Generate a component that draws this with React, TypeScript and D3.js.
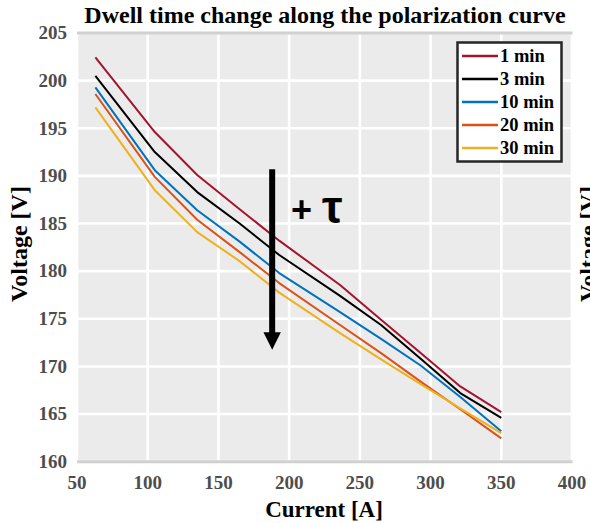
import React from "react";
import * as d3 from "d3";

const currents = [63, 105, 135, 165, 193, 236, 265, 293, 321, 350];
const seriesNames = ["1 min", "3 min", "10 min", "20 min", "30 min"];
const v1 = [202.45, 194.6, 190.1, 186.5, 183.2, 178.55, 174.9, 171.4, 167.9, 165.2];
const v3 = [200.5, 192.5, 188.3, 185.0, 181.7, 177.4, 174.35, 170.8, 167.2, 164.6];
const v10 = [199.3, 190.6, 186.4, 183.1, 179.8, 175.7, 172.9, 170.1, 166.8, 163.2];
const v20 = [198.6, 189.9, 185.4, 182.0, 178.75, 174.35, 171.4, 168.4, 165.5, 162.45];
const v30 = [197.2, 188.5, 184.1, 181.05, 177.75, 173.5, 170.75, 168.15, 165.6, 163.0];
const seriesValues = [v1, v3, v10, v20, v30];
const colors = ["#A2142F", "#000000", "#0072BD", "#D95319", "#EDB120"];
const xTicks = [50, 100, 150, 200, 250, 300, 350, 400];
const yTicks = [160, 165, 170, 175, 180, 185, 190, 195, 200, 205];
const arrowCurrent = 188;
const arrowFrom = 190.7;
const arrowTo = 173.6;

const W = 590;
const H = 523;
const serif = "'Liberation Serif', 'Times New Roman', serif";

export default function App() {
  const x = d3.scaleLinear().domain([50, 400]).range([77, 572]);
  const y = d3.scaleLinear().domain([160, 205]).range([461.7, 33]);
  const line = d3
    .line<number>()
    .x((_, i) => x(currents[i]))
    .y((d) => y(d));

  const left = x(50);
  const right = 571;
  const top = y(205);
  const bottom = y(160);
  const ax = x(arrowCurrent);

  return (
    <svg
      width={W}
      height={H}
      style={{ position: "absolute", left: 0, top: 0, display: "block", background: "#fff" }}
    >
      <rect x={left} y={top} width={right - left} height={bottom - top} fill="#ebebeb" />
      {xTicks.map((t) => (
        <line key={"gx" + t} x1={x(t)} x2={x(t)} y1={top} y2={bottom} stroke="#fff" strokeWidth={2.6} />
      ))}
      {yTicks.map((t) => (
        <line key={"gy" + t} x1={left} x2={right} y1={y(t)} y2={y(t)} stroke="#fff" strokeWidth={2.6} />
      ))}
      <line x1={left} x2={right + 1.5} y1={top} y2={top} stroke="#d0d0d0" strokeWidth={3} />
      <line x1={left} x2={right + 1.5} y1={bottom} y2={bottom} stroke="#d0d0d0" strokeWidth={3} />

      {seriesValues.map((vals, i) => (
        <path key={seriesNames[i]} d={line(vals) || ""} fill="none" stroke={colors[i]} strokeWidth={2} strokeLinejoin="round" />
      ))}

      {/* arrow */}
      <line x1={ax} x2={ax} y1={y(arrowFrom)} y2={y(arrowTo) + 2} stroke="#000" strokeWidth={6} />
      <path
        d={`M${ax - 8.7},${y(arrowTo)} L${ax + 8.7},${y(arrowTo)} L${ax},${y(arrowTo) + 17.5} Z`}
        fill="#000"
      />
      <text x={291} y={222} fontFamily="'Liberation Sans', Arial, sans-serif" fontWeight="bold" fontSize={36} fill="#000">
        +
      </text>
      <text x={322} y={223} fontFamily="'Liberation Sans', Arial, sans-serif" fontWeight="bold" fontSize={46} fill="#000">
        τ
      </text>

      {/* y tick labels */}
      {yTicks.map((t) => (
        <text
          key={"yl" + t}
          x={67}
          y={y(t)}
          dy="0.33em"
          textAnchor="end"
          fontFamily={serif}
          fontWeight="bold"
          fontSize={19}
          fill="#4d4d4d"
        >
          {t}
        </text>
      ))}
      {/* x tick labels */}
      {xTicks.map((t) => (
        <text
          key={"xl" + t}
          x={x(t)}
          y={489}
          textAnchor="middle"
          fontFamily={serif}
          fontWeight="bold"
          fontSize={19}
          fill="#4d4d4d"
        >
          {t}
        </text>
      ))}

      <text x={324} y={517} textAnchor="middle" fontFamily={serif} fontWeight="bold" fontSize={23} fill="#000">
        Current [A]
      </text>
      <text
        transform={`translate(27,244) rotate(-90)`}
        textAnchor="middle"
        fontFamily={serif}
        fontWeight="bold"
        fontSize={24}
        fill="#000"
      >
        Voltage [V]
      </text>
      <text
        transform={`translate(596,244) rotate(-90)`}
        textAnchor="middle"
        fontFamily={serif}
        fontWeight="bold"
        fontSize={24}
        fill="#000"
      >
        Voltage [V]
      </text>
      <text x={325} y={23} textAnchor="middle" fontFamily={serif} fontWeight="bold" fontSize={24} fill="#000">
        Dwell time change along the polarization curve
      </text>

      {/* legend */}
      <rect x={457.5} y={42.5} width={104} height={119} fill="#fff" stroke="#262626" strokeWidth={2.5} />
      {seriesNames.map((n, i) => (
        <g key={"lg" + n}>
          <line x1={462} x2={498} y1={56 + i * 23} y2={56 + i * 23} stroke={colors[i]} strokeWidth={2.5} />
          <text x={500} y={56 + i * 23} dy="0.33em" fontFamily={serif} fontWeight="bold" fontSize={18.5} fill="#000">
            {n}
          </text>
        </g>
      ))}
    </svg>
  );
}
